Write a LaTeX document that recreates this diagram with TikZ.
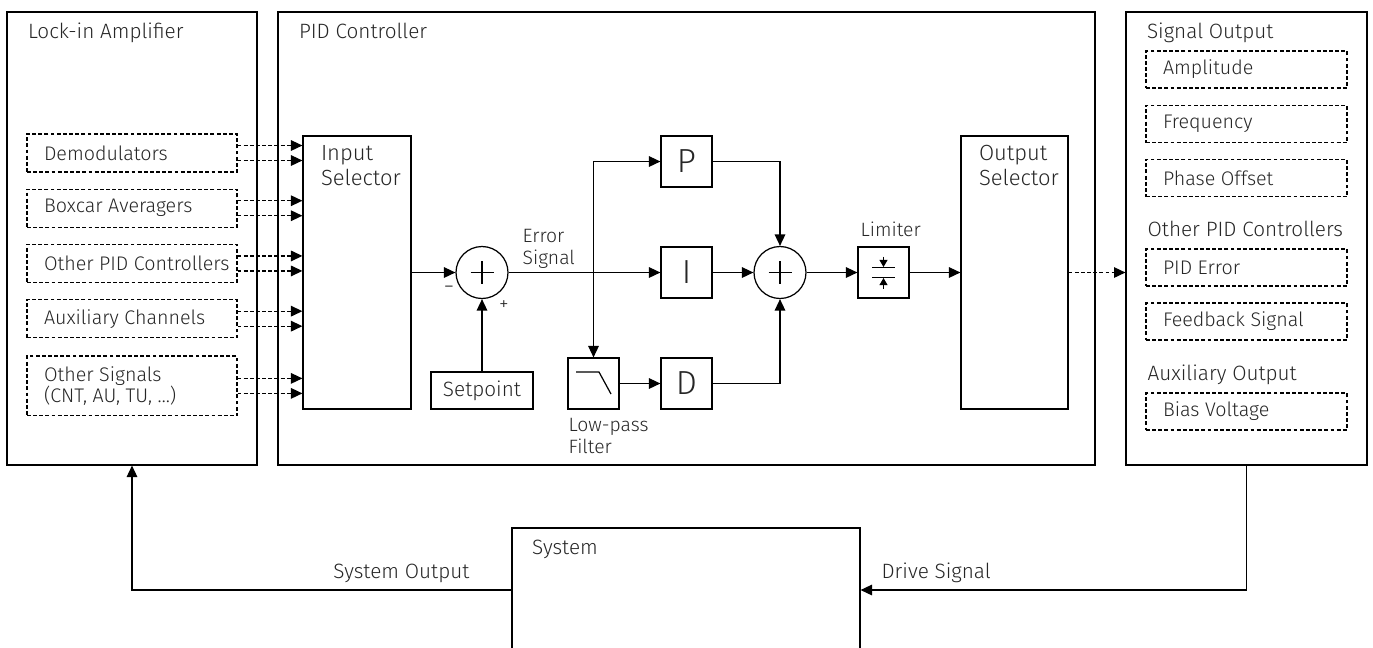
\documentclass[tikz,border=0pt]{standalone}
\usepackage{fontspec}
\setmainfont{Fira Sans Light}
\usetikzlibrary{arrows.meta,positioning}
\definecolor{txtgray}{HTML}{262626}

\begin{document}
\begin{tikzpicture}[
    x=0.02cm, y=-0.02cm,
    line width=0.7pt,
    font=\fontsize{11.8}{14}\selectfont,
    every node/.style={text=txtgray},
    frame/.style={draw, rectangle, inner sep=0pt},
    title/.style={anchor=base west, inner sep=0pt, align=left},
    lbl/.style={anchor=base west, inner sep=0pt, align=left, font=\fontsize{11}{12.2}\selectfont},
    srcbox/.style={draw, dashed, dash pattern=on 2.2pt off 1.3pt, minimum height=0.76cm, text width=3.52cm, inner xsep=0.34cm, align=flush left, font=\fontsize{11.2}{12.2}\selectfont},
    outbox/.style={srcbox, minimum height=0.74cm, text width=3.34cm},
    block/.style={draw, rectangle, minimum width=1.02cm, minimum height=1.02cm, inner sep=0pt},
    gainbox/.style={block, font=\fontsize{19}{19}\selectfont},
    sum/.style={draw, circle, minimum size=1.04cm, inner sep=0pt,
      path picture={\draw (path picture bounding box.center) +(-11.5,0) -- +(11.5,0)
        (path picture bounding box.center) +(0,-11.5) -- +(0,11.5);}},
    arrow/.style={-{Triangle[length=6.5pt,width=6pt]}},
    dasharrow/.style={arrow, dashed, dash pattern=on 2.2pt off 1.3pt}
]
\useasboundingbox (0,0) rectangle (1373,647);
\clip (0,0) rectangle (1373,647);

\node[frame, minimum width=5cm, minimum height=9.06cm] (lockin) at (132,238.5) {};
\node[frame, minimum width=16.34cm, minimum height=9.06cm] (pid) at (686.5,238.5) {};
\node[frame, minimum width=4.82cm, minimum height=9.06cm] (sigout) at (1246.5,238.5) {};
\node[frame, minimum width=6.96cm, minimum height=2.48cm] (system) at (686,590) {};
\node[title] (lockin-title) at ([xshift=0.42cm,yshift=-0.54cm]lockin.north west) {Lock-in Amplifier};
\node[title] (pid-title) at ([xshift=0.42cm,yshift=-0.54cm]pid.north west) {PID Controller};
\node[title] (sigout-title) at ([xshift=0.42cm,yshift=-0.54cm]sigout.north west) {Signal Output};
\node[title] (system-title) at ([xshift=0.4cm,yshift=-0.54cm]system.north west) {System};

\node[srcbox] (demod) at (132,153) {Demodulators};
\node[srcbox, below=0.32cm of demod] (boxcar) {Boxcar Averagers};
\node[srcbox, below=0.32cm of boxcar] (otherpid) {\mbox{Other PID Controllers}};
\node[srcbox, below=0.32cm of otherpid] (auxch) {Auxiliary Channels};
\node[srcbox, below=0.34cm of auxch, minimum height=1.2cm] (othersig) {Other Signals\\(CNT, AU, TU, …)};

\node[block, minimum width=2.16cm, minimum height=5.46cm] (insel) at (357,272.5) {};
\node[title, font=\fontsize{12.5}{14.2}\selectfont] (insel-title) at ([xshift=0.36cm,yshift=-1cm]insel.north west) {Input\\Selector};
\node[sum] (sum1) at (482,272.5) {};
\node[block, minimum width=2.04cm, minimum height=0.74cm] (setp) at (482,390.5) {Setpoint};
\node[inner sep=0pt] (minus) at (449,290) {−};
\node[inner sep=0pt, font=\fontsize{11}{12}\selectfont] (plus) at (504,306) {+};
\node[lbl] (err-lbl) at (522,264) {Error\\Signal};

\node[gainbox] (P) at (686.5,161.5) {P};
\node[gainbox] (I) at (686.5,272.5) {I};
\node[gainbox] (D) at (686.5,383.5) {D};
\node[block] (lpf) at (593.5,383.5) {};
\node[lbl] (lpf-lbl) at (568,453) {Low-pass\\Filter};
\node[sum] (sum2) at (780,272.5) {};
\node[block] (lim) at (883.5,272.5) {};
\node[lbl] (lim-lbl) at (860,236) {Limiter};
\node[block, minimum width=2.14cm, minimum height=5.46cm] (outsel) at (1014.5,272.5) {};
\node[title, font=\fontsize{12.5}{14.2}\selectfont] (outsel-title) at ([xshift=0.36cm,yshift=-1cm]outsel.north west) {Output\\Selector};

\node[outbox] (amp) at (1246.5,69.5) {Amplitude};
\node[outbox] (freq) at (1246.5,124) {Frequency};
\node[outbox] (phase) at (1246.5,178) {Phase Offset};
\node[title] (pidout-title) at (1147,236) {Other PID Controllers};
\node[outbox] (piderr) at (1246.5,267.5) {PID Error};
\node[outbox] (fb) at (1246.5,321.5) {Feedback Signal};
\node[title] (auxout-title) at (1147,380) {Auxiliary Output};
\node[outbox] (bias) at (1246.5,411.5) {Bias Voltage};

\node[title, anchor=base east] (sysout-lbl) at (470,578) {System Output};
\node[title] (drive-lbl) at (881,578) {Drive Signal};

\foreach \src in {demod,boxcar,otherpid,auxch,othersig} {
  \draw[dasharrow] ([yshift=0.15cm]\src.east) -- ([yshift=0.15cm]\src.east -| insel.west);
  \draw[dasharrow] ([yshift=-0.15cm]\src.east) -- ([yshift=-0.15cm]\src.east -| insel.west);
}
\coordinate (br) at (lpf.north |- sum1.east);
\draw[arrow] (insel) -- (sum1);
\draw[arrow] (setp) -- (sum1);
\draw[arrow] (sum1) -- (I);
\draw[arrow] (br) |- (P);
\draw[arrow] (br) -- (lpf);
\draw[arrow] (lpf) -- (D);
\draw[arrow] (P) -| (sum2);
\draw[arrow] (I) -- (sum2);
\draw[arrow] (D) -| (sum2);
\draw[arrow] (sum2) -- (lim);
\draw[arrow] (lim) -- (outsel);
\draw[dasharrow] (outsel.east) -- (outsel.east -| sigout.west);
\draw[arrow] (sigout.south) |- (system.east);
\draw[arrow] (system.west) -| (lockin.south);

\draw ([shift={(-17.5,-11.5)}]lpf.center) -- ++(23,0) -- ++(12,22);
\draw[line width=1pt] ([shift={(-11.5,-5)}]lim.center) -- ++(23,0);
\draw[line width=1pt] ([shift={(-11.5,5)}]lim.center) -- ++(23,0);
\draw[-{Triangle[length=4pt,width=4.5pt]}, line width=0.6pt] ([shift={(0,-16)}]lim.center) -- ([shift={(0,-5.5)}]lim.center);
\draw[-{Triangle[length=4pt,width=4.5pt]}, line width=0.6pt] ([shift={(0,16)}]lim.center) -- ([shift={(0,5.5)}]lim.center);
\end{tikzpicture}
\end{document}
